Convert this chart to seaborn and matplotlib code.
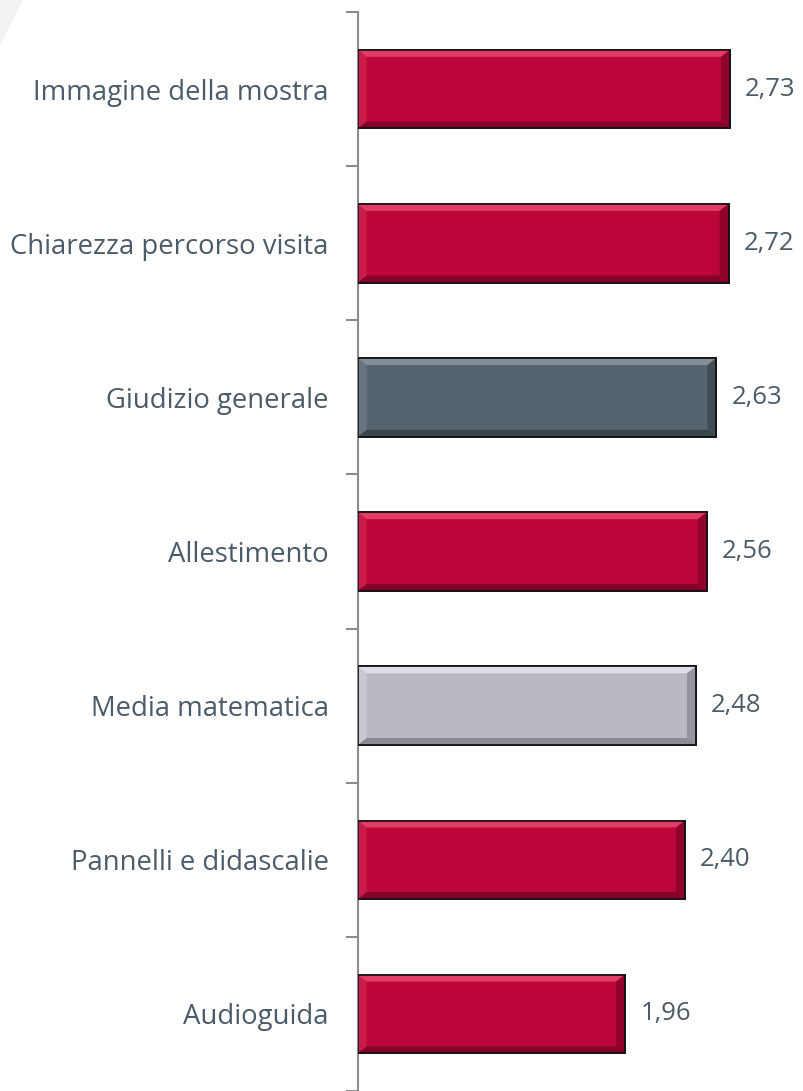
import matplotlib
matplotlib.use("Agg")
import matplotlib.pyplot as plt
import seaborn as sns
import pandas as pd
from matplotlib.patches import Polygon

categories = ["Immagine della mostra", "Chiarezza percorso visita", "Giudizio generale",
              "Allestimento", "Media matematica", "Pannelli e didascalie", "Audioguida"]
values = [2.73, 2.72, 2.63, 2.56, 2.48, 2.40, 1.96]
labels = ["2,73", "2,72", "2,63", "2,56", "2,48", "2,40", "1,96"]
groups = ["item", "item", "overall", "item", "mean", "item", "item"]

palette = {"item": "#BC0538", "overall": "#56646F", "mean": "#B8B9C2"}
light = {"item": "#E8466F", "overall": "#8A97A1", "mean": "#E4E5EC"}
dark = {"item": "#6E0322", "overall": "#2E383F", "mean": "#77787F"}

df = pd.DataFrame({"cat": categories, "val": values, "grp": groups})

sns.set_theme(style="white")
plt.rcParams["font.family"] = ["Open Sans", "DejaVu Sans"]
text_color = "#4B5B69"

fig = plt.figure(figsize=(8.04, 10.91), dpi=100)
fig.patches.append(Polygon([[0, 1], [23 / 804, 1], [0, 1 - 45 / 1091]], closed=True,
                           transform=fig.transFigure, facecolor="#F1F2F4", edgecolor="none"))
ax = fig.add_axes([357.7 / 804, 0, 1 - 357.7 / 804, 1 - 12.1 / 1091])

sns.barplot(data=df, y="cat", x="val", hue="grp", palette=palette, orient="h",
            width=0.51, dodge=False, legend=False, ax=ax, saturation=1,
            edgecolor="#111111", linewidth=1.2)

ax.set_xlim(0, (804 - 357.7) / 136.36)
ax.set_ylim(6 + 72.5 / 154.8, -0.5)

# bevel effect derived from bar geometry
bx = 9 / 136.36
by = 7 / 154.8
bars = [p for p in list(ax.patches) if p.get_width() > 0]
for p in bars:
    x0, y0 = p.get_x(), p.get_y()
    w, h = p.get_width(), p.get_height()
    idx = int(round(y0 + h / 2))
    g = groups[idx]
    x1, y1 = x0 + w, y0 + h
    ax.add_patch(Polygon([[x0, y0], [x1, y0], [x1 - bx, y0 + by], [x0 + bx, y0 + by]],
                         facecolor=light[g], edgecolor="none", alpha=0.85, zorder=3))
    ax.add_patch(Polygon([[x0, y1], [x1, y1], [x1 - bx, y1 - by], [x0 + bx, y1 - by]],
                         facecolor=dark[g], edgecolor="none", alpha=0.7, zorder=3))
    ax.add_patch(Polygon([[x1, y0], [x1, y1], [x1 - bx, y1 - by], [x1 - bx, y0 + by]],
                         facecolor=dark[g], edgecolor="none", alpha=0.55, zorder=3))
    ax.add_patch(Polygon([[x0, y0], [x0, y1], [x0 + bx, y1 - by], [x0 + bx, y0 + by]],
                         facecolor=light[g], edgecolor="none", alpha=0.35, zorder=3))
    ax.add_patch(plt.Rectangle((x0, y0), w, h, facecolor="none", edgecolor="#111111",
                               linewidth=1.2, zorder=4))

for i, (v, lab) in enumerate(zip(values, labels)):
    ax.annotate(lab, xy=(v, i), xytext=(11, 0), textcoords="offset points",
                ha="left", va="center", fontsize=18.5, color=text_color)

ax.set_xlabel("")
ax.set_ylabel("")
ax.set_xticks([])
ax.tick_params(axis="y", which="major", length=0, pad=21, labelsize=19.8, labelcolor=text_color)
ax.set_yticks([i - 0.5 for i in range(len(categories) + 1)], minor=True)
ax.tick_params(axis="y", which="minor", length=9, width=1.5, color="#8C8C8C", left=True)

for s in ["top", "right", "bottom"]:
    ax.spines[s].set_visible(False)
ax.spines["left"].set_color("#8C8C8C")
ax.spines["left"].set_linewidth(1.5)
ax.set_facecolor("none")

fig.savefig("out.png", dpi=100, facecolor="white")
